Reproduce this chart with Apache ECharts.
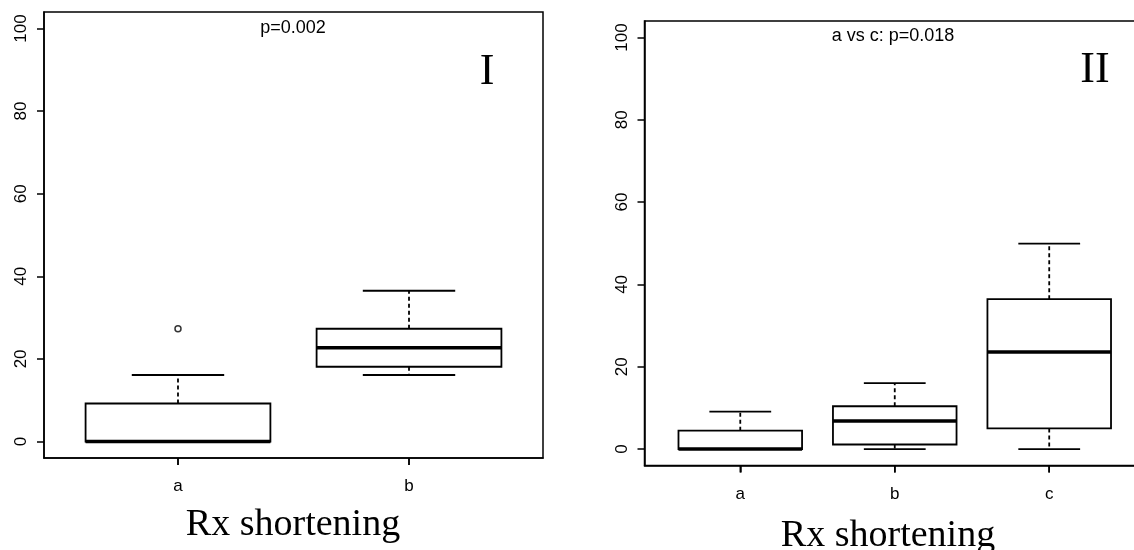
<!DOCTYPE html>
<html>
<head>
<meta charset="utf-8">
<script src="https://cdn.jsdelivr.net/npm/echarts@6/dist/echarts.min.js"></script>
<style>
html,body{margin:0;padding:0;background:#fff;}
#chart{width:1134px;height:550px;}
</style>
</head>
<body>
<div id="chart"></div>
<script>
// ---- Data: panel I ----
const categoriesI = ['a', 'b'];
const minI = [0, 16.1];
const q1I = [0, 18.1];
const medI = [0, 22.7];
const q3I = [9.2, 27.3];
const maxI = [16.1, 36.5];
const outliersI = [[1, 27.3]];

// ---- Data: panel II ----
const categoriesII = ['a', 'b', 'c'];
const minII = [0, 0, 0];
const q1II = [0, 1.1, 5.0];
const medII = [0, 6.8, 23.6];
const q3II = [4.45, 10.4, 36.4];
const maxII = [9.1, 16.0, 49.9];
const outliersII = [];

const yTicks = [0, 20, 40, 60, 80, 100];
const pTextI = 'p=0.002';
const pTextII = 'a vs c: p=0.018';
const panelI = 'I';
const panelII = 'II';
const xTitle = 'Rx shortening';

const SANS = "'Liberation Sans', Arial, sans-serif";
const SERIF = "'Liberation Serif', 'Times New Roman', serif";

function buildBoxData(cats, mn, q1, md, q3, mx) {
  return cats.map((c, i) => [i + 1, mn[i], q1[i], md[i], q3[i], mx[i]]);
}

function renderBox(params, api) {
  const x = api.value(0), lo = api.value(1), q1 = api.value(2), med = api.value(3), q3 = api.value(4), hi = api.value(5);
  const tl = api.coord([x - 0.4, q3]);
  const br = api.coord([x + 0.4, q1]);
  const ml = api.coord([x - 0.4, med]);
  const mr = api.coord([x + 0.4, med]);
  const cx = api.coord([x, 0])[0];
  const yHi = api.coord([x, hi])[1];
  const yLo = api.coord([x, lo])[1];
  const capL = api.coord([x - 0.2, 0])[0];
  const capR = api.coord([x + 0.2, 0])[0];
  const bottom = params.coordSys.y + params.coordSys.height;
  const dash = { stroke: '#000', lineWidth: 1.8, lineDash: [4, 3] };
  const solid = { stroke: '#000', lineWidth: 1.8 };
  return {
    type: 'group',
    children: [
      { type: 'line', shape: { x1: cx, y1: tl[1], x2: cx, y2: yHi }, style: dash },
      { type: 'line', shape: { x1: cx, y1: br[1], x2: cx, y2: yLo }, style: dash },
      { type: 'line', shape: { x1: capL, y1: yHi, x2: capR, y2: yHi }, style: solid },
      { type: 'line', shape: { x1: capL, y1: yLo, x2: capR, y2: yLo }, style: solid },
      { type: 'rect', shape: { x: tl[0], y: tl[1], width: br[0] - tl[0], height: br[1] - tl[1] },
        style: { fill: '#fff', stroke: '#000', lineWidth: 1.8 } },
      { type: 'line', shape: { x1: ml[0], y1: ml[1], x2: mr[0], y2: mr[1] },
        style: { stroke: '#000', lineWidth: 3.5 } },
      // category tick mark below the frame
      { type: 'line', shape: { x1: cx, y1: bottom, x2: cx, y2: bottom + 7 }, style: { stroke: '#000', lineWidth: 1.5 } }
    ]
  };
}

function xAxisFor(gridIndex, cats, min, max) {
  const vals = cats.map((c, i) => i + 1);
  return {
    type: 'value', gridIndex, min, max, position: 'bottom',
    axisLine: { show: true, onZero: false, lineStyle: { color: '#000', width: 1.5 } },
    splitLine: { show: false },
    axisTick: { show: true, inside: false, customValues: vals, length: 7, lineStyle: { color: '#000', width: 1.5 } },
    axisLabel: { show: true, customValues: vals, margin: 20, color: '#000', fontSize: 17, fontFamily: SANS,
      formatter: v => cats[Math.round(v) - 1] || '' }
  };
}

function yAxisFor(gridIndex) {
  return {
    type: 'value', gridIndex, min: -4, max: 104, position: 'left',
    axisLine: { show: true, onZero: false, lineStyle: { color: '#000', width: 1.5 } },
    splitLine: { show: false },
    axisTick: { show: true, inside: false, customValues: yTicks, length: 7, lineStyle: { color: '#000', width: 1.5 } },
    axisLabel: { show: true, customValues: yTicks, rotate: 90, margin: 14, color: '#000', fontSize: 17, fontFamily: SANS }
  };
}

const chart = echarts.init(document.getElementById('chart'), null, { renderer: 'canvas' });
chart.setOption({
  animation: false,
  backgroundColor: '#fff',
  grid: [
    { left: 44, top: 12, width: 499, height: 446, show: true, borderColor: '#000', borderWidth: 1.5,
      backgroundColor: 'transparent', containLabel: false, outerBoundsMode: 'none' },
    { left: 644.5, top: 21, width: 500.5, height: 444.5, show: true, borderColor: '#000', borderWidth: 1.5,
      backgroundColor: 'transparent', containLabel: false, outerBoundsMode: 'none' }
  ],
  xAxis: [
    xAxisFor(0, categoriesI, 0.42, 2.58),
    xAxisFor(1, categoriesII, 0.38, 3.62)
  ],
  yAxis: [yAxisFor(0), yAxisFor(1)],
  series: [
    { type: 'custom', xAxisIndex: 0, yAxisIndex: 0, renderItem: renderBox, clip: false,
      encode: { x: 0, y: [1, 2, 3, 4, 5] },
      data: buildBoxData(categoriesI, minI, q1I, medI, q3I, maxI) },
    { type: 'scatter', xAxisIndex: 0, yAxisIndex: 0, symbol: 'circle', symbolSize: 6,
      itemStyle: { color: '#fff', borderColor: '#000', borderWidth: 1.5 }, data: outliersI },
    { type: 'custom', xAxisIndex: 1, yAxisIndex: 1, renderItem: renderBox, clip: false,
      encode: { x: 0, y: [1, 2, 3, 4, 5] },
      data: buildBoxData(categoriesII, minII, q1II, medII, q3II, maxII) },
    { type: 'scatter', xAxisIndex: 1, yAxisIndex: 1, symbol: 'circle', symbolSize: 6,
      itemStyle: { color: '#fff', borderColor: '#000', borderWidth: 1.5 }, data: outliersII }
  ],
  graphic: [
    { type: 'text', x: 293, y: 28, style: { text: pTextI, font: "18px " + SANS, fill: '#000', textAlign: 'center', textVerticalAlign: 'middle' } },
    { type: 'text', x: 487, y: 72, style: { text: panelI, font: "44px " + SERIF, fill: '#000', textAlign: 'center', textVerticalAlign: 'middle' } },
    { type: 'text', x: 293, y: 525, style: { text: xTitle, font: "38px " + SERIF, fill: '#000', textAlign: 'center', textVerticalAlign: 'middle' } },
    { type: 'text', x: 893, y: 36, style: { text: pTextII, font: "18px " + SANS, fill: '#000', textAlign: 'center', textVerticalAlign: 'middle' } },
    { type: 'text', x: 1095, y: 70, style: { text: panelII, font: "44px " + SERIF, fill: '#000', textAlign: 'center', textVerticalAlign: 'middle' } },
    { type: 'text', x: 888, y: 536, style: { text: xTitle, font: "38px " + SERIF, fill: '#000', textAlign: 'center', textVerticalAlign: 'middle' } }
  ]
});
</script>
</body>
</html>
